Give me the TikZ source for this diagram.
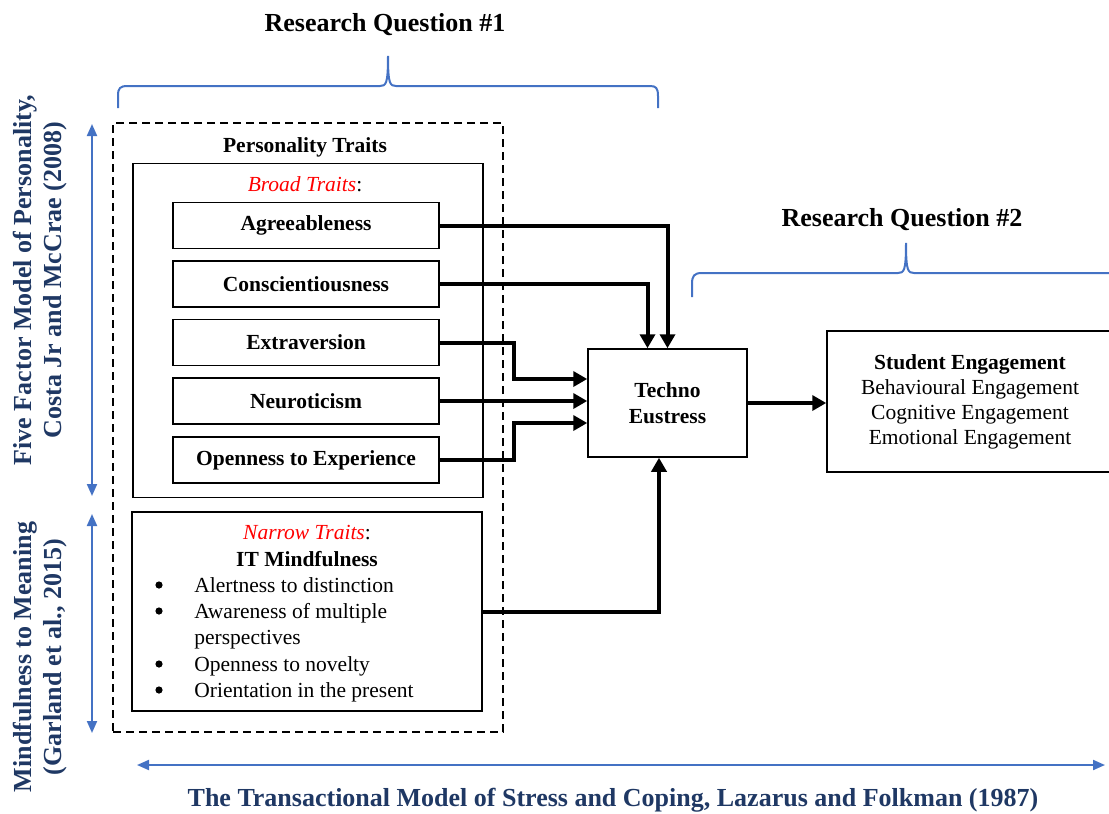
\documentclass[tikz,border=0pt]{standalone}
\usepackage{fontspec}
\setmainfont{Liberation Serif}
\usetikzlibrary{arrows.meta,calc}
\definecolor{navy}{HTML}{1F3864}
\definecolor{lblue}{HTML}{4472C4}
\definecolor{tred}{HTML}{FF0000}
\newcommand\bodyfs{\fontsize{10.75pt}{13pt}\selectfont}
\newcommand\bigfs{\fontsize{13pt}{15pt}\selectfont}
\begin{document}
\begin{tikzpicture}[x=0.5pt,y=-0.5pt,
  box/.style={draw,line width=0.75pt,inner sep=0pt},
  trait/.style={box,minimum width=133pt,minimum height=23pt,font=\bodyfs\bfseries},
  conn/.style={line width=2pt,-{Triangle[width=7.5pt,length=7pt]}},
  brace/.style={draw=lblue,line width=1pt},
  barrow/.style={draw=lblue,line width=1pt,{Triangle[width=5pt,length=6pt]}-{Triangle[width=5pt,length=6pt]}},
  nlab/.style={font=\bigfs\bfseries,text=navy,inner sep=0pt},
  title/.style={font=\bigfs\bfseries,inner sep=0pt},
  txt/.style={font=\bodyfs,inner sep=0pt},
  dot/.style={circle,fill=black,inner sep=0pt,minimum size=3.6pt},
]
\useasboundingbox (0,0) rectangle (1109,814);

% titles
\node[title] (rq1) at (385,25) {Research Question \#1};
\node[title] (rq2) at (902,220) {Research Question \#2};

% braces
\draw[brace] (118,108) -- (118,96) .. controls (118,88) and (120,86) .. (128,86)
  -- (380,86) .. controls (386,86) and (388,84) .. (388,56)
  .. controls (388,84) and (390,86) .. (396,86) -- (650,86)
  .. controls (656,86) and (658,88) .. (658,96) -- (658,108);
\draw[brace] (692,297) -- (692,284) .. controls (692,276) and (694,273) .. (702,273)
  -- (898,273) .. controls (904,273) and (906,271) .. (906,243)
  .. controls (906,271) and (908,273) .. (914,273) -- (1112,273);

% containers
\node[draw,dashed,dash pattern=on 4pt off 2.5pt,line width=0.6pt,inner sep=0pt,
  minimum width=195pt,minimum height=304.5pt] (outer) at (308,427.5) {};
\node[box,minimum width=175pt,minimum height=167pt] (broad) at (308,330.5) {};
\node[box,minimum width=175pt,minimum height=99.5pt] (narrow) at (307,611.5) {};

\node[txt,font=\bodyfs\bfseries,anchor=base] (pt) at (305,152) {Personality Traits};
\node[txt,anchor=base] (bt) at (305,191) {\textcolor{tred}{\itshape Broad Traits}:};

% traits
\node[trait] (agr) at (306,225.5) {Agreeableness};
\node[trait] (con) at (306,284) {Conscientiousness};
\node[trait] (ext) at (306,342.5) {Extraversion};
\node[trait] (neu) at (306,401) {Neuroticism};
\node[trait] (ope) at (306,460) {Openness to Experience};

% narrow traits
\node[txt,anchor=base] (nt) at (307,539) {\textcolor{tred}{\itshape Narrow Traits}:};
\node[txt,font=\bodyfs\bfseries,anchor=base] (itm) at (307,566) {IT Mindfulness};
\node[dot] (d1) at (159,585) {};
\node[txt,anchor=base west] (i1) at (194,592) {Alertness to distinction};
\node[dot] (d2) at (159,611) {};
\node[txt,anchor=base west] (i2) at (194,618) {Awareness of multiple};
\node[txt,anchor=base west] (i2b) at (194,644) {perspectives};
\node[dot] (d3) at (159,664) {};
\node[txt,anchor=base west] (i3) at (194,671) {Openness to novelty};
\node[dot] (d4) at (159,690) {};
\node[txt,anchor=base west] (i4) at (194,697) {Orientation in the present};

% techno eustress
\node[box,minimum width=79.5pt,minimum height=54pt,align=center,
  font=\bodyfs\bfseries] (techno) at (667.5,403) {Techno\\Eustress};

% student engagement
\node[box,minimum width=143pt,minimum height=70.5pt,align=center,
  font=\fontsize{10.75pt}{12.5pt}\selectfont] (student) at (970,401.5)
  {\textbf{Student Engagement}\\Behavioural Engagement\\Cognitive Engagement\\Emotional Engagement};

% connectors
\draw[conn] (agr.east) -| (techno.north);
\draw[conn] (con.east) -| ($(techno.north)+(-20,0)$);
\draw[conn] (ext.east) -- ++(74,0) |- ($(techno.west)+(0,-24)$);
\draw[conn] (neu.east) -- (neu.east -| techno.west);
\draw[conn] (ope.east) -- ++(74,0) |- ($(techno.west)+(0,20)$);
\draw[conn] (narrow.east) -| ($(techno.south)+(-8.5,0)$);
\draw[conn] (techno.east) -- (techno.east -| student.west);

% left labels and arrows
\coordinate (a1t) at (92,124);
\coordinate (a1b) at (92,496);
\coordinate (a2t) at (92,514);
\coordinate (a2b) at (92,733);
\draw[barrow] (a1t) -- (a1b);
\draw[barrow] (a2t) -- (a2b);
\node[nlab,rotate=90] (ff1) at (25,280) {Five Factor Model of Personality,};
\node[nlab,rotate=90] (ff2) at (55,280) {Costa Jr and McCrae (2008)};
\node[nlab,rotate=90] (mm1) at (25,657) {Mindfulness to Meaning};
\node[nlab,rotate=90] (mm2) at (55,657) {(Garland et al., 2015)};

% bottom
\coordinate (bl) at (137,765);
\coordinate (br) at (1105,765);
\draw[barrow] (bl) -- (br);
\node[nlab] (tm) at (613,800) {The Transactional Model of Stress and Coping, Lazarus and Folkman (1987)};
\end{tikzpicture}
\end{document}
